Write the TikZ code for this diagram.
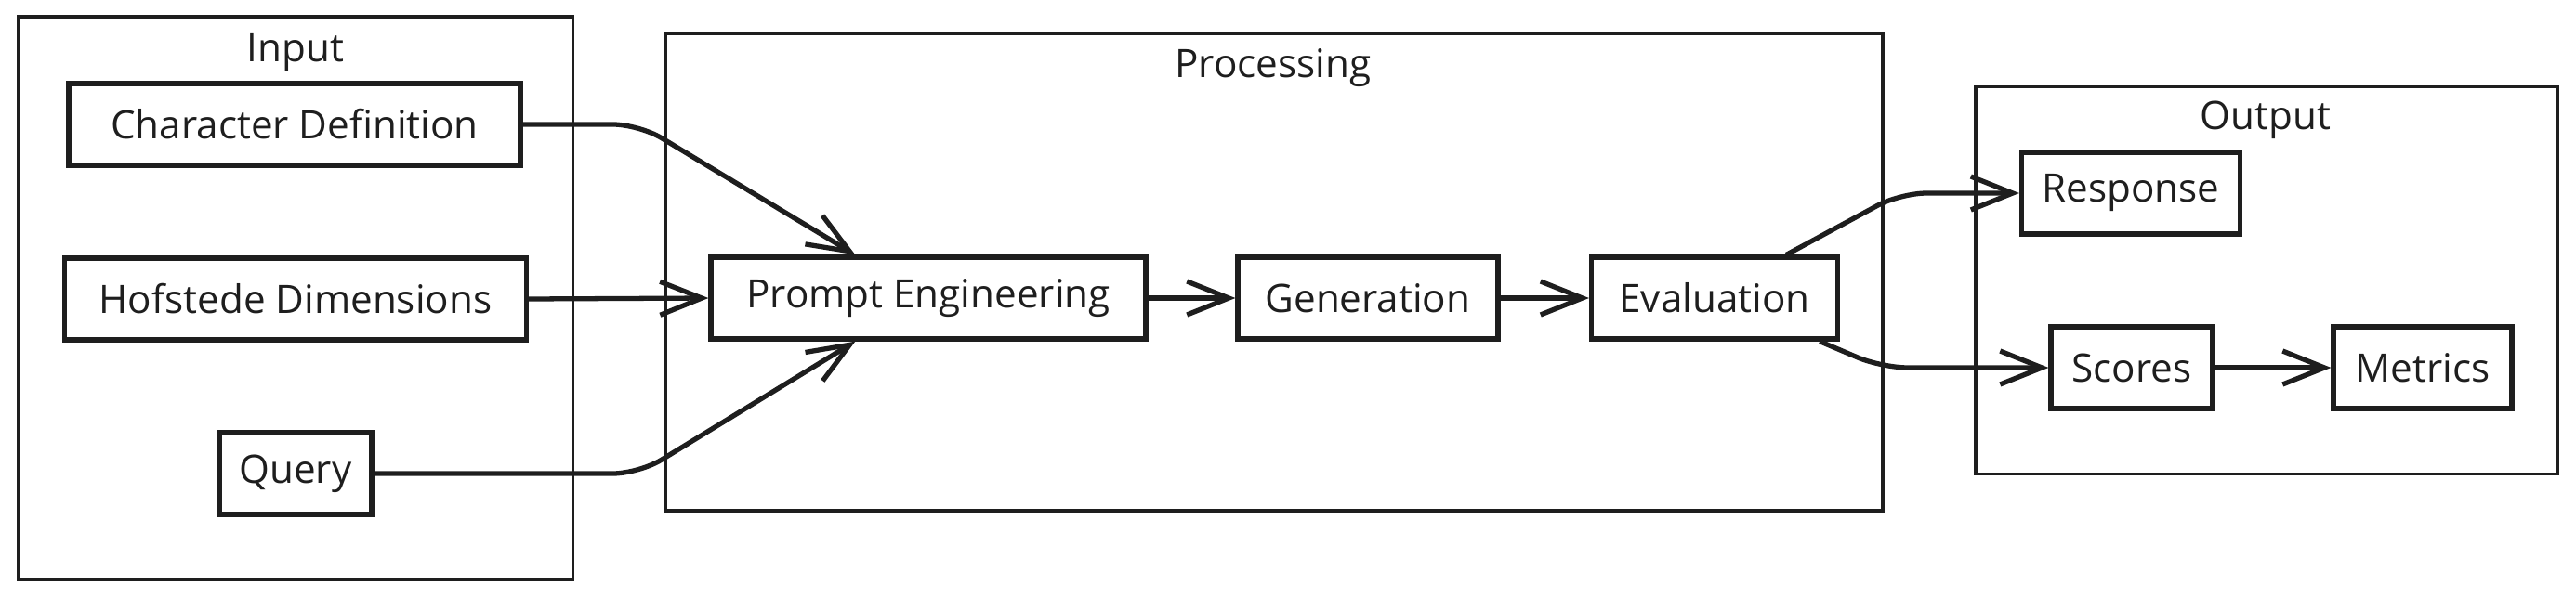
\documentclass[tikz,border=0pt]{standalone}
\usepackage{fontspec}
\setmainfont{Open Sans}
\usetikzlibrary{positioning, arrows.meta, calc}
\definecolor{myink}{RGB}{30,30,30}
\tikzset{
  box/.style={draw=myink, line width=1.5pt, inner sep=0, minimum height=0.88cm,
    text=myink, font=\fontsize{12}{14}\selectfont},
  group/.style={draw=myink, line width=1.1pt, inner sep=0},
  grouplabel/.style={anchor=base, inner sep=0, text=myink,
    font=\fontsize{12}{14}\selectfont},
  flow/.style={->, line width=1.5pt, draw=myink, rounded corners=8pt}
}

\begin{document}
\begin{tikzpicture}[>={Straight Barb[length=4.5mm,width=3.6mm]}]
\useasboundingbox (0,0) rectangle (27.72,-6.44);

% groups
\node [group, minimum width=5.97cm, minimum height=6.06cm] (input) at (3.18,-3.21) {};
\node [group, minimum width=13.1cm, minimum height=5.14cm] (proc) at (13.71,-2.93) {};
\node [group, minimum width=6.26cm, minimum height=4.17cm] (output) at (24.39,-3.02) {};

\node [grouplabel] (inlbl) at (3.18,-0.67) {Input};
\node [grouplabel] (proclbl) at (13.7,-0.84) {Processing};
\node [grouplabel] (outlbl) at (24.38,-1.4) {Output};

% input side
\node [box, minimum width=4.86cm] (chardef) at (3.17,-1.34) {Character Definition};
\node [box, minimum width=4.97cm] (hofstede) at (3.18,-3.22) {Hofstede Dimensions};
\node [box, minimum width=1.64cm] (query) at (3.18,-5.1) {Query};

% pipeline
\node [box, minimum width=4.68cm] (prompt) at (9.99,-3.21) {Prompt Engineering};
\node [box, minimum width=2.8cm] (gen) at (14.72,-3.21) {Generation};
\node [box, minimum width=2.65cm] (eval) at (18.45,-3.21) {Evaluation};

% results
\node [box, minimum width=2.35cm] (resp) at (22.93,-2.08) {Response};
\node [box, minimum width=1.74cm] (scores) at (22.94,-3.96) {Scores};
\node [box, minimum width=1.92cm] (metrics) at (26.07,-3.96) {Metrics};


\draw [flow] (chardef.east) -- ++(1.25,0) -- ([xshift=1.58cm]prompt.north west);
\draw [flow] (hofstede.east) -- (prompt.west);
\draw [flow] (query.east) -- ++(2.85,0) -- ([xshift=1.58cm]prompt.south west);

\draw [flow] (prompt) -- (gen);
\draw [flow] (gen) -- (eval);

\draw [flow] ([xshift=-0.58cm]eval.north east) -- (20.45,-2.08) -- (resp.west);
\draw [flow] ([xshift=-0.22cm]eval.south east) -- (20.25,-3.96) -- (scores.west);
\draw [flow] (scores) -- (metrics);

\end{tikzpicture}
\end{document}
